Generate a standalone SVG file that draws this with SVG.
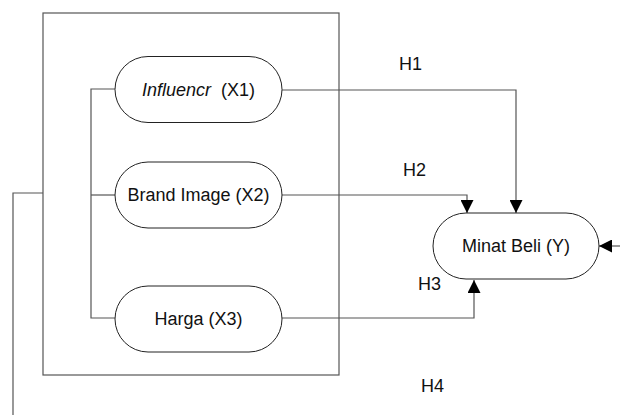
<svg xmlns="http://www.w3.org/2000/svg" width="620" height="415" viewBox="0 0 620 415">
<style>
.ln{fill:none;stroke:#555;stroke-width:1.2}
.nd{fill:#fff;stroke:#222;stroke-width:1}
.t{font-family:"Liberation Sans",Arial,sans-serif;font-size:18px;fill:#111}
</style>
<defs>
<marker id="ar" viewBox="0 0 10 10" refX="10" refY="5" markerWidth="13" markerHeight="13" markerUnits="userSpaceOnUse" orient="auto">
<path d="M0,0 L10,5 L0,10 z" fill="#000"/>
</marker>
</defs>
<rect width="620" height="415" fill="#fff"/>
<g id="connectors">
<rect class="ln" x="43" y="13" width="296" height="362"/>
<polyline class="ln" points="115,89 91,89 91,318 115,318"/>
<line class="ln" x1="91" y1="195" x2="115" y2="195"/>
<polyline class="ln" points="43,193 13,193 13,415"/>
<polyline class="ln" points="282,90 516,90 516,213" marker-end="url(#ar)"/>
<polyline class="ln" points="282,195 467,195 467,213" marker-end="url(#ar)"/>
<polyline class="ln" points="282,318 474,318 474,280" marker-end="url(#ar)"/>
<line class="ln" x1="620" y1="246" x2="599" y2="246" marker-end="url(#ar)"/>
<text class="t" x="399" y="70">H1</text>
<text class="t" x="403" y="176">H2</text>
<text class="t" x="418" y="290">H3</text>
<text class="t" x="421" y="392">H4</text>
</g>
<g id="x1">
<rect class="nd" x="115" y="56.5" width="167" height="66" rx="33"/>
<text class="t" x="198.5" y="96" text-anchor="middle" xml:space="preserve"><tspan font-style="italic">Influencr</tspan>  (X1)</text>
</g>
<g id="x2">
<rect class="nd" x="115" y="162" width="167" height="66" rx="33"/>
<text class="t" x="198.5" y="201" text-anchor="middle">Brand Image (X2)</text>
</g>
<g id="x3">
<rect class="nd" x="115" y="286" width="167" height="66" rx="33"/>
<text class="t" x="198.5" y="325" text-anchor="middle">Harga (X3)</text>
</g>
<g id="y">
<rect class="nd" x="433" y="213" width="166" height="66" rx="33"/>
<text class="t" x="516" y="252" text-anchor="middle">Minat Beli (Y)</text>
</g>
</svg>
